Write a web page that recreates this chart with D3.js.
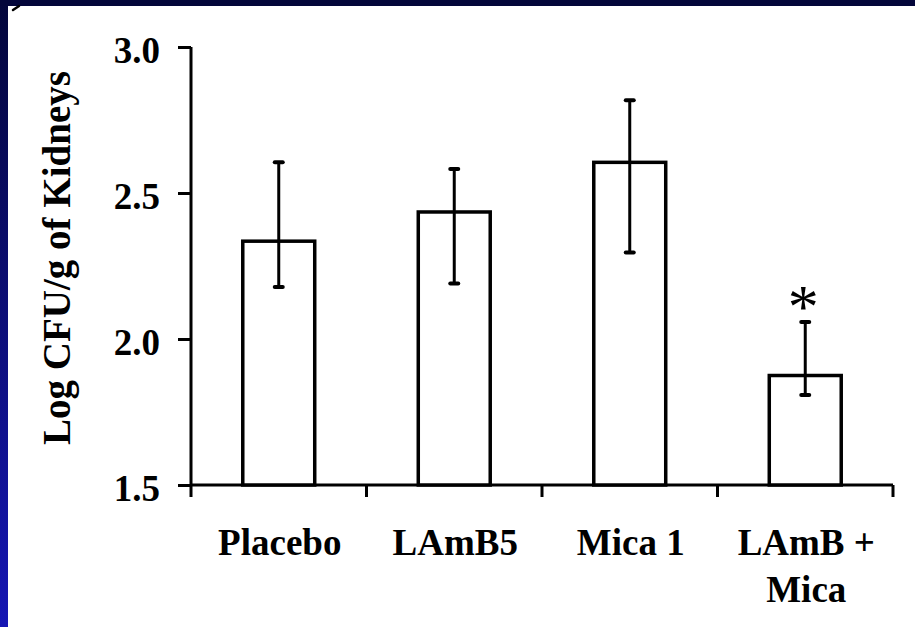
<!DOCTYPE html>
<html>
<head>
<meta charset="utf-8">
<script src="https://cdn.jsdelivr.net/npm/d3@7"></script>
<style>
  html, body { margin: 0; padding: 0; background: #fff; }
  svg { display: block; }
  text { font-family: "Liberation Serif", "Times New Roman", serif; }
</style>
</head>
<body>
<svg id="chart" width="915" height="627"></svg>
<script>
// ---- data ----
const categories = ["Placebo", "LAmB5", "Mica 1", "LAmB + Mica"];
const categoryLines = [["Placebo"], ["LAmB5"], ["Mica 1"], ["LAmB +", "Mica"]];
const means = [2.335, 2.435, 2.605, 1.875];
const errLow = [2.178, 2.190, 2.296, 1.808];
const errHigh = [2.605, 2.582, 2.818, 2.058];
const significance = ["", "", "", "*"];
const yTicks = [1.5, 2.0, 2.5, 3.0];
const yLabel = "Log CFU/g of Kidneys";

// ---- layout ----
const W = 915, H = 627;
const svg = d3.select("#chart");

// slide frame
const defs = svg.append("defs");
const grad = defs.append("linearGradient").attr("id", "leftGrad")
  .attr("x1", 0).attr("y1", 0).attr("x2", 0).attr("y2", 1);
grad.append("stop").attr("offset", "0%").attr("stop-color", "#03063a");
grad.append("stop").attr("offset", "100%").attr("stop-color", "#1616b4");
svg.append("rect").attr("x", 0).attr("y", 0).attr("width", W).attr("height", H).attr("fill", "#ffffff");
svg.append("rect").attr("x", 0).attr("y", 0).attr("width", 8).attr("height", H).attr("fill", "url(#leftGrad)");
svg.append("rect").attr("x", 0).attr("y", 0).attr("width", W).attr("height", 6).attr("fill", "#03063a");
svg.append("line").attr("x1", 13).attr("y1", 10).attr("x2", 19).attr("y2", 6)
  .attr("stroke", "#000").attr("stroke-width", 2.5).attr("stroke-linecap", "round");

const x = d3.scaleBand().domain(categories).range([191, 893]).padding(0);
const y = d3.scaleLinear().domain([1.5, 3.0]).range([485, 47]);
const barW = x.bandwidth() * 0.41;

const fontBold = "bold 37px 'Liberation Serif', 'Times New Roman', serif";

// y axis
const yAxis = d3.axisLeft(y).tickValues(yTicks).tickFormat(d3.format(".1f"))
  .tickSize(13).tickSizeOuter(0).tickPadding(18);
const gy = svg.append("g").attr("transform", "translate(191,0)").call(yAxis);
gy.select(".domain").attr("stroke", "#000").attr("stroke-width", 3)
  .attr("d", `M0,${y(3.0)}V${y(1.5) + 12}`);
gy.selectAll(".tick line").attr("stroke", "#000").attr("stroke-width", 3);
gy.selectAll(".tick text").attr("fill", "#000").style("font", fontBold)
  .attr("dy", "0.43em").attr("y", 0);

// x axis line and boundary ticks
svg.append("line").attr("x1", 191).attr("x2", 893).attr("y1", y(1.5)).attr("y2", y(1.5))
  .attr("stroke", "#000").attr("stroke-width", 3);
const boundaries = categories.slice(1).map(c => x(c)).concat([x(categories[3]) + x.bandwidth()]);
svg.selectAll(".xtick").data(boundaries).enter().append("line")
  .attr("x1", d => d).attr("x2", d => d).attr("y1", y(1.5)).attr("y2", y(1.5) + 12)
  .attr("stroke", "#000").attr("stroke-width", 3);

// bars
const cx = c => x(c) + x.bandwidth() / 2;
svg.selectAll(".bar").data(categories).enter().append("rect")
  .attr("x", c => cx(c) - barW / 2)
  .attr("y", (c, i) => y(means[i]))
  .attr("width", barW)
  .attr("height", (c, i) => y(1.5) - y(means[i]))
  .attr("fill", "#fff").attr("stroke", "#000").attr("stroke-width", 3.5);

// error bars
const capW = 12;
categories.forEach((c, i) => {
  const g = svg.append("g");
  g.append("line").attr("x1", cx(c)).attr("x2", cx(c))
    .attr("y1", y(errLow[i])).attr("y2", y(errHigh[i]))
    .attr("stroke", "#000").attr("stroke-width", 3);
  [errLow[i], errHigh[i]].forEach(v => {
    g.append("line").attr("x1", cx(c) - capW / 2 + 2).attr("x2", cx(c) + capW / 2 - 2)
      .attr("y1", y(v)).attr("y2", y(v))
      .attr("stroke", "#000").attr("stroke-width", 4).attr("stroke-linecap", "round");
  });
  if (significance[i]) {
    svg.append("text").attr("x", cx(c) - 2).attr("y", y(errHigh[i]) + 5)
      .attr("text-anchor", "middle")
      .style("font", "normal 62px 'Liberation Serif', 'Times New Roman', serif")
      .attr("fill", "#000").text(significance[i]);
  }
});

// category labels
categoryLines.forEach((lines, i) => {
  const t = svg.append("text").attr("text-anchor", "middle").attr("fill", "#000")
    .style("font", fontBold);
  lines.forEach((ln, j) => {
    t.append("tspan").attr("x", cx(categories[i]) + 1).attr("y", 555 + j * 47).text(ln);
  });
});

// y label
svg.append("text").attr("transform", "translate(70,258) rotate(-90)")
  .attr("text-anchor", "middle").attr("fill", "#000")
  .style("font", "bold 39px 'Liberation Serif', 'Times New Roman', serif")
  .text(yLabel);
</script>
</body>
</html>
